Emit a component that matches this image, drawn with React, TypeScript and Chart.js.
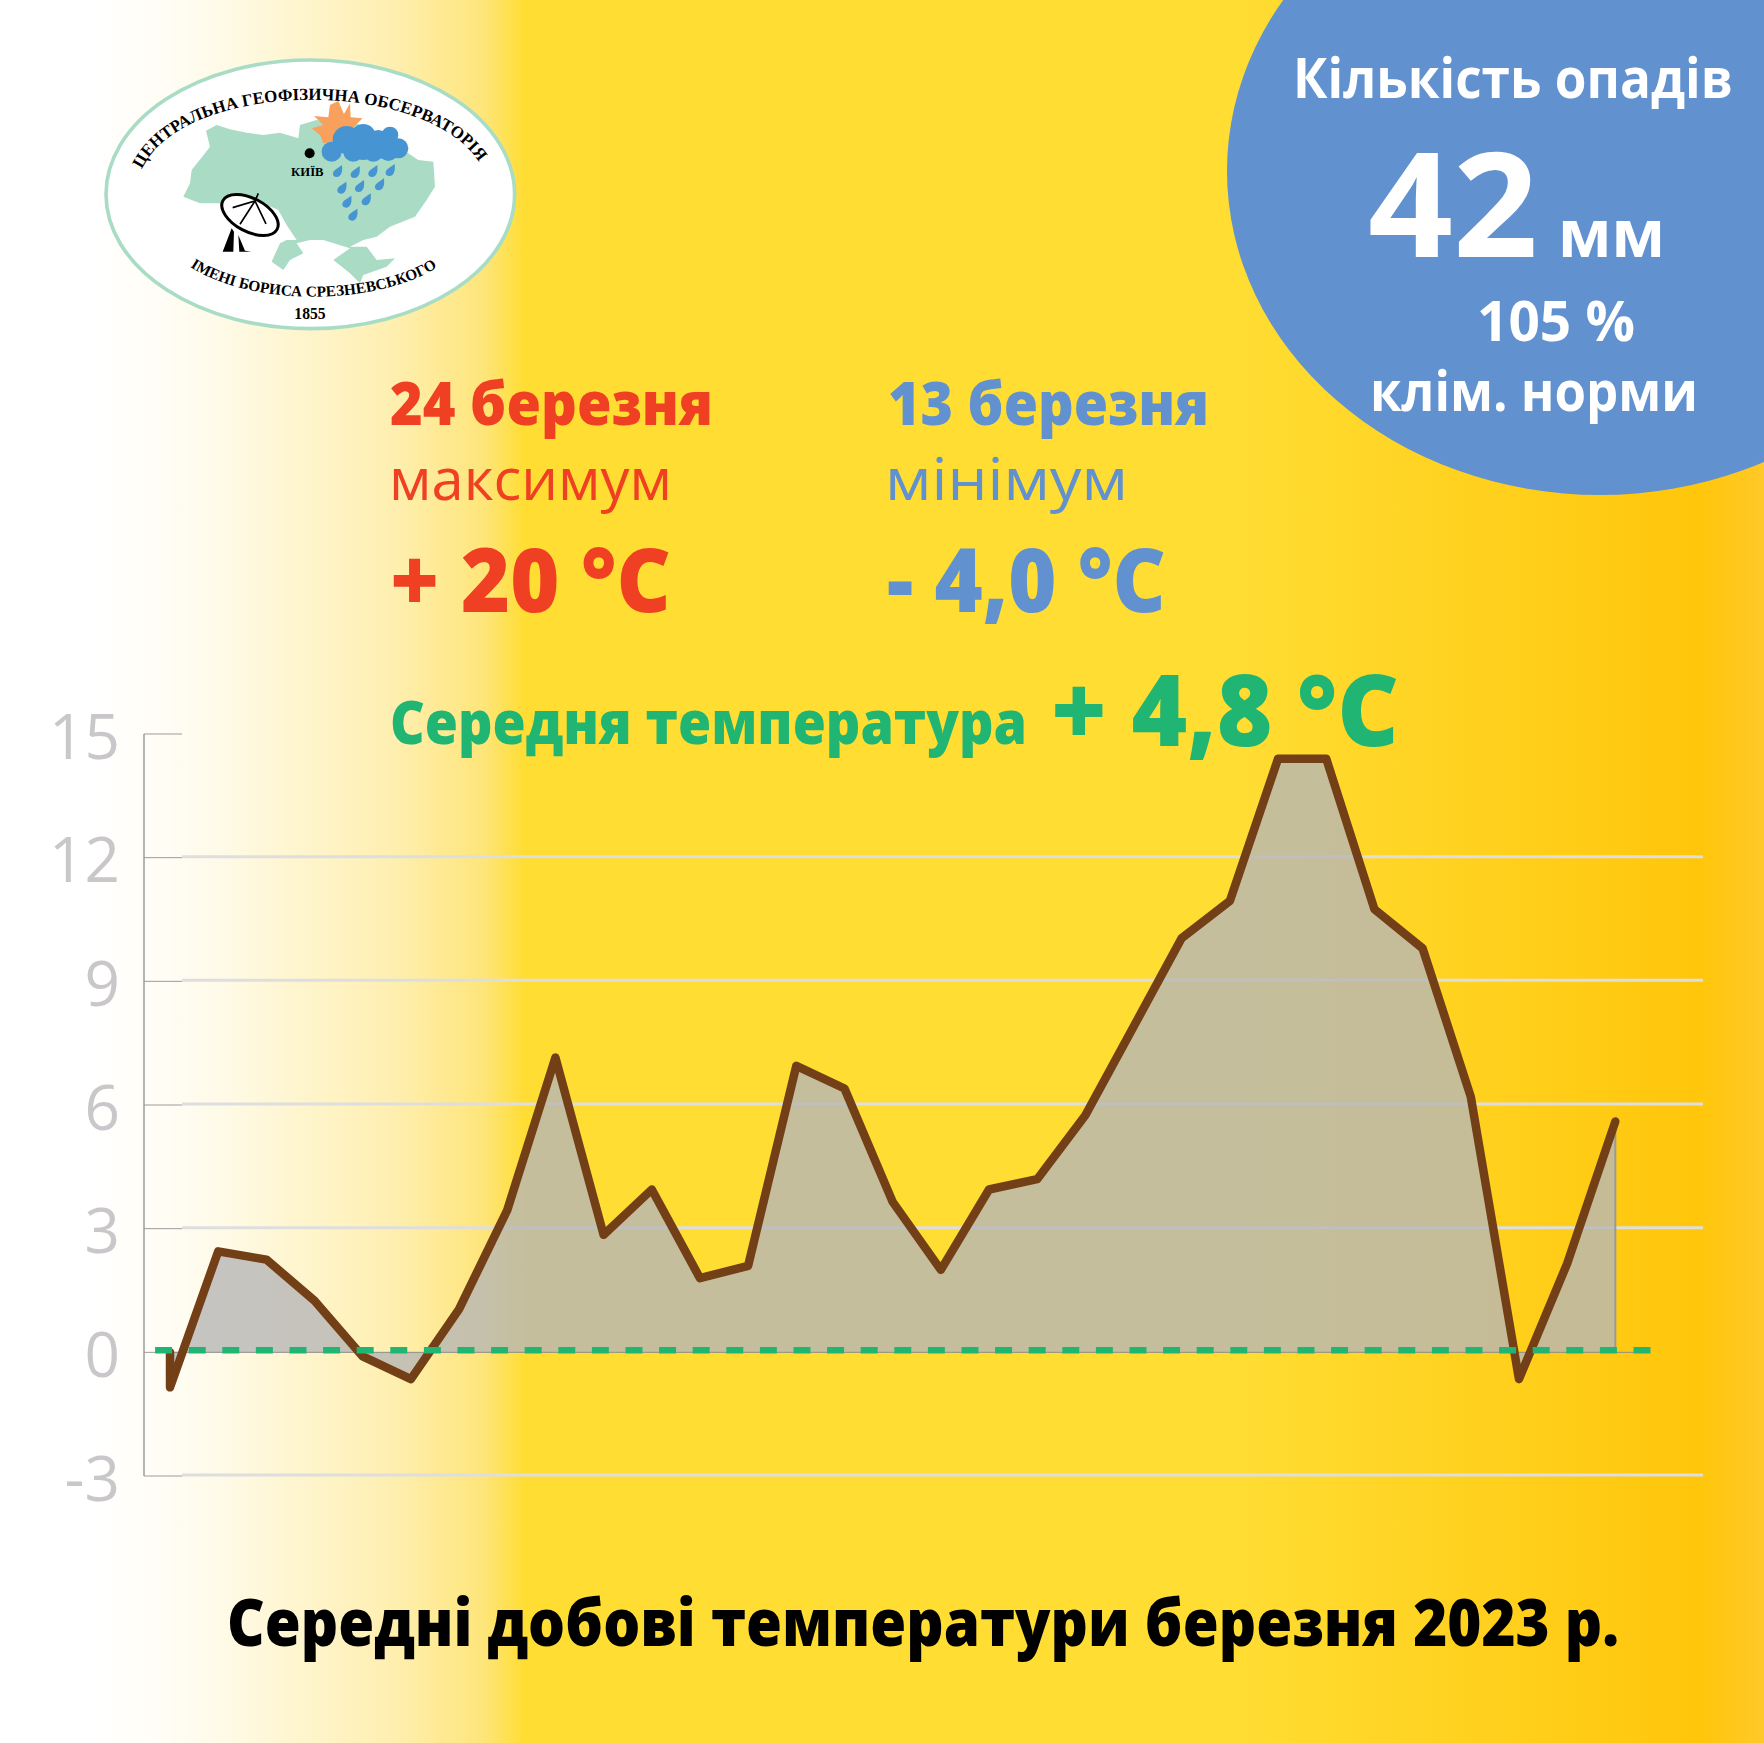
import { useEffect, useRef } from "react";
import { Chart, registerables } from "chart.js";

Chart.register(...registerables);

const WIDTH = 1764;
const HEIGHT = 1743;

// середні добові температури, 1-31 березня
const temps = [
  -0.85, 2.45, 2.25, 1.25, -0.1, -0.65, 1.05, 3.45, 7.15, 2.85, 3.95, 1.8, 2.1,
  6.95, 6.4, 3.65, 2.0, 3.95, 4.2, 5.75, 7.9, 10.05, 10.95, 14.4, 14.4, 10.75,
  9.8, 6.2, -0.65, 2.15, 5.6,
];
const zeroRange = [1, 31.5];
const dashRange = [0.69, 31.79];
const dashLevel = 0.05;

const xMin = 0.46;
const xMax = 32.82;
const yMin = -3;
const yMax = 15;
const yStep = 3;

const points = temps.map((t, i) => ({ x: i + 1, y: t }));

const frame = {
  id: "frame",
  beforeDatasetsDraw(chart: any) {
    const { ctx, chartArea, scales } = chart;
    const y = scales.y;
    const tickEnd = chartArea.left + 38;
    ctx.save();
    ctx.strokeStyle = "#9b9b9b";
    ctx.lineWidth = 1.5;
    ctx.beginPath();
    ctx.moveTo(chartArea.left, y.getPixelForValue(yMax));
    ctx.lineTo(chartArea.left, y.getPixelForValue(yMin));
    ctx.stroke();
    y.ticks.forEach((tick: any) => {
      const py = y.getPixelForValue(tick.value);
      if (tick.value !== yMax && tick.value !== 0) {
        ctx.strokeStyle = "#dedede";
        ctx.lineWidth = 3;
        ctx.beginPath();
        ctx.moveTo(tickEnd, py - 1);
        ctx.lineTo(chartArea.right, py - 1);
        ctx.stroke();
      }
      ctx.strokeStyle = "#9b9b9b";
      ctx.lineWidth = 1;
      ctx.beginPath();
      ctx.moveTo(chartArea.left, py);
      ctx.lineTo(tickEnd, py);
      ctx.stroke();
    });
    ctx.restore();
  },
};

type Label = {
  text: string;
  x: number;
  y: number;
  w: number;
  size: number;
  color: string;
  weight?: number;
};

const labels: Label[] = [
  { text: "Кількість опадів", x: 1293, y: 98, w: 440, size: 56, color: "#ffffff" },
  { text: "42", x: 1368, y: 257, w: 170, size: 146, color: "#ffffff" },
  { text: "мм", x: 1558, y: 257, w: 107, size: 66, color: "#ffffff" },
  { text: "105 %", x: 1477, y: 341, w: 158, size: 56, color: "#ffffff" },
  { text: "клім. норми", x: 1370, y: 411, w: 328, size: 56, color: "#ffffff" },
  { text: "24 березня", x: 390, y: 425, w: 323, size: 60, color: "#f04023", weight: 800 },
  { text: "13 березня", x: 888, y: 425, w: 321, size: 60, color: "#6191cf", weight: 800 },
  { text: "максимум", x: 389, y: 500, w: 283, size: 58, color: "#f04023", weight: 400 },
  { text: "мінімум", x: 885, y: 500, w: 243, size: 58, color: "#6191cf", weight: 400 },
  { text: "+ 20 °C", x: 390, y: 612, w: 281, size: 89, color: "#f04023", weight: 800 },
  { text: "- 4,0 °C", x: 887, y: 612, w: 279, size: 89, color: "#6191cf", weight: 800 },
  { text: "Середня температура", x: 390, y: 744, w: 637, size: 61, color: "#20b573", weight: 800 },
  { text: "+ 4,8 °C", x: 1051, y: 746, w: 348, size: 99, color: "#20b573", weight: 800 },
  { text: "Середні добові температури березня 2023 р.", x: 227, y: 1646, w: 1392, size: 66, color: "#000000", weight: 800 },
];

const drops = [
  [742, 395], [795, 398], [848, 395], [900, 392],
  [755, 445], [808, 440], [868, 435],
  [770, 487], [828, 480],
  [788, 526],
];
const cloud = [
  [725, 335, 30], [770, 300, 42], [820, 290, 38], [865, 300, 30], [900, 285, 25],
  [925, 325, 30], [790, 335, 30], [850, 335, 30], [895, 335, 28], [820, 320, 40], [870, 320, 35],
];

const Logo = () => (
  <g transform="translate(90 40) scale(0.3333)">
    <ellipse cx={661} cy={463} rx={613} ry={403} fill="#ffffff" stroke="#a9dcc5" strokeWidth={11} />
    <polygon
      fill="#aadbc4"
      points="348,272 380,255 420,268 470,278 520,285 570,278 625,295 630,255 680,240 760,255 800,250 880,290 955,340 985,360 1030,365 1035,440 1010,480 975,530 900,560 860,590 820,600 780,620 830,620 860,660 915,655 890,680 820,705 810,730 780,700 730,660 780,625 700,600 660,600 620,610 640,640 600,660 580,690 545,665 570,610 590,600 620,600 590,555 565,510 520,490 470,465 400,490 330,490 280,470 300,430 305,390 345,340 360,320"
    />
    <polygon
      fill="#f9a15c"
      points="745,183 762,222 780,190 782,232 818,235 790,262 815,290 760,300 700,310 690,285 665,265 700,255 672,228 715,232 720,195"
    />
    {cloud.map(([cx, cy, r], i) => (
      <circle key={i} cx={cx} cy={cy} r={r} fill="#4794d3" />
    ))}
    {drops.map(([cx, cy], i) => (
      <path
        key={i}
        transform={`translate(${cx} ${cy})`}
        fill="#4794d3"
        d="M14,-20 C16,-4 14,16 -2,16 C-16,16 -16,0 -6,-6 Z"
      />
    ))}
    <circle cx={659} cy={340} r={15} fill="#000000" />
    <ellipse cx={480} cy={525} rx={92} ry={50} transform="rotate(28 480 525)" fill="#ffffff" stroke="#000000" strokeWidth={9} />
    <path
      d="M428,503 L495,483 L450,553 M495,483 L528,552 M495,483 L505,460"
      fill="none"
      stroke="#000000"
      strokeWidth={5}
    />
    <path d="M425,565 L398,635 L484,635 L465,632 L445,585 L448,635 L430,635 L432,575 Z" fill="#000000" />
    <path id="logoTop" d="M155,388 C285,110 1040,110 1180,388" fill="none" />
    <path id="logoBottom" d="M300,680 C480,800 860,800 1045,680" fill="none" />
    <g fontFamily="'Liberation Serif'" fontWeight={700} fill="#000000">
      <text fontSize={51}>
        <textPath href="#logoTop" startOffset="0">
          ЦЕНТРАЛЬНА ГЕОФІЗИЧНА ОБСЕРВАТОРІЯ
        </textPath>
      </text>
      <text fontSize={46}>
        <textPath href="#logoBottom" startOffset="0">
          ІМЕНІ БОРИСА СРЕЗНЕВСЬКОГО
        </textPath>
      </text>
      <text x={660} y={838} fontSize={47} textAnchor="middle">1855</text>
      <text x={652} y={408} fontSize={38} textAnchor="middle">КИЇВ</text>
    </g>
  </g>
);

const App = () => {
  const canvasRef = useRef<HTMLCanvasElement | null>(null);

  useEffect(() => {
    const canvas = canvasRef.current;
    if (!canvas) return;

    const chart = new Chart(canvas, {
      type: "line",
      data: {
        datasets: [
          {
            data: dashRange.map((x) => ({ x, y: dashLevel })),
            borderColor: "#20b573",
            borderWidth: 6.5,
            borderDash: [17, 16.6],
            pointRadius: 0,
            fill: false,
          },
          {
            // крива починається вертикальним штрихом від нуля
            data: [{ x: 1, y: 0 }, ...points],
            borderColor: "#733f17",
            borderWidth: 8.5,
            borderCapStyle: "round",
            borderJoinStyle: "round",
            pointRadius: 0,
            fill: false,
            tension: 0,
          },
          {
            data: zeroRange.map((x) => ({ x, y: 0 })),
            borderColor: "#8c8c8c",
            borderWidth: 1,
            pointRadius: 0,
            fill: false,
          },
          {
            // сіра площа під кривою
            data: [...points, { x: temps.length, y: 0 }],
            borderColor: "#9a9a9a",
            borderWidth: 2,
            backgroundColor: "rgba(183, 183, 183, 0.8)",
            fill: "origin",
            pointRadius: 0,
            tension: 0,
          },
        ],
      },
      options: {
        animation: false,
        responsive: false,
        devicePixelRatio: 1,
        layout: { padding: { top: 734, bottom: 267, right: 61, left: 0 } },
        plugins: { legend: { display: false }, tooltip: { enabled: false } },
        scales: {
          x: { type: "linear", min: xMin, max: xMax, display: false },
          y: {
            min: yMin,
            max: yMax,
            afterFit: (scale: any) => {
              scale.width = 144;
            },
            border: { display: false },
            grid: { drawOnChartArea: false, drawTicks: false },
            ticks: {
              stepSize: yStep,
              padding: 24,
              labelOffset: 7,
              color: "#c8c8cb",
              font: { family: "'Open Sans'", weight: 400, size: 62 },
            },
          },
        },
      },
      plugins: [frame],
    } as any);

    return () => chart.destroy();
  }, []);

  return (
    <div
      style={{
        position: "fixed",
        left: 0,
        top: 0,
        width: WIDTH,
        height: HEIGHT,
        overflow: "hidden",
        background:
          "linear-gradient(90deg, #ffffff 0px, #ffffff 90px, #fffdf4 170px, #fefae6 225px, #feefb0 394px, #fee57a 484px, #ffdd33 525px, #ffdd33 1240px, #ffc60b 1700px, #ffc929 1764px)",
      }}
    >
      <svg width={WIDTH} height={HEIGHT} style={{ position: "absolute", left: 0, top: 0 }}>
        <ellipse cx={1600} cy={171} rx={373} ry={324} fill="#6191cf" />
        <Logo />
        <g fontFamily="'Open Sans'">
          {labels.map((l) => (
            <text
              key={l.text}
              x={l.x}
              y={l.y}
              fontSize={l.size}
              fontWeight={l.weight ?? 700}
              fill={l.color}
              textLength={l.w}
              lengthAdjust="spacingAndGlyphs"
            >
              {l.text}
            </text>
          ))}
        </g>
      </svg>
      <canvas
        ref={canvasRef}
        width={WIDTH}
        height={HEIGHT}
        style={{ position: "absolute", left: 0, top: 0 }}
      />
    </div>
  );
};

export default App;
